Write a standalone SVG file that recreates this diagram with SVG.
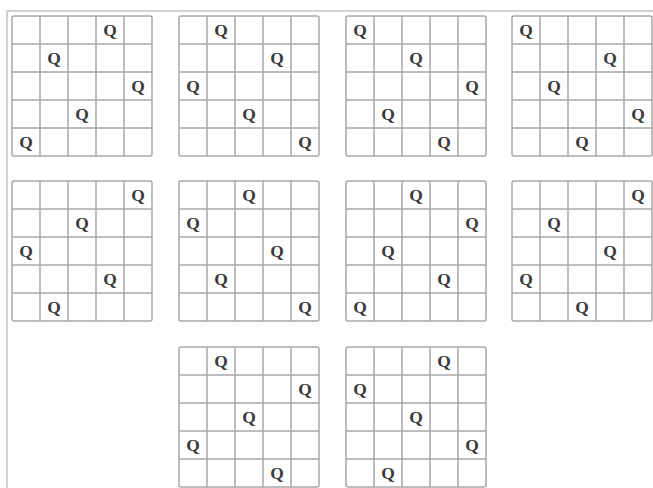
<svg xmlns="http://www.w3.org/2000/svg" xmlns:xlink="http://www.w3.org/1999/xlink" width="653" height="488" viewBox="0 0 653 488">
<style>
.frame{stroke:#c4c4c4;stroke-width:1.5;fill:none}
.grid{stroke:#a8a8a8;stroke-width:1.5;fill:none}
.q{font-family:"Liberation Serif","Times New Roman",serif;font-size:17.5px;font-weight:bold;fill:#3a3a3a;text-anchor:middle}
</style>
<defs>
<g id="b">
<rect class="grid" x="0" y="0" width="140" height="140" rx="2"/>
<path class="grid" d="M28 0V140M56 0V140M84 0V140M112 0V140M0 28H140M0 56H140M0 84H140M0 112H140"/>
</g>
</defs>
<rect width="653" height="488" fill="#fff"/>
<path class="frame" d="M7 488V11H653"/>
<g transform="translate(0,1)">
<g id="board1" transform="translate(12,16)"><use xlink:href="#b" y="-1"/>
<text class="q" x="98" y="19">Q</text><text class="q" x="42" y="47">Q</text><text class="q" x="126" y="75">Q</text><text class="q" x="70" y="103">Q</text><text class="q" x="14" y="131">Q</text></g>
<g id="board2" transform="translate(179,16)"><use xlink:href="#b" y="-1"/>
<text class="q" x="42" y="19">Q</text><text class="q" x="98" y="47">Q</text><text class="q" x="14" y="75">Q</text><text class="q" x="70" y="103">Q</text><text class="q" x="126" y="131">Q</text></g>
<g id="board3" transform="translate(346,16)"><use xlink:href="#b" y="-1"/>
<text class="q" x="14" y="19">Q</text><text class="q" x="70" y="47">Q</text><text class="q" x="126" y="75">Q</text><text class="q" x="42" y="103">Q</text><text class="q" x="98" y="131">Q</text></g>
<g id="board4" transform="translate(512,16)"><use xlink:href="#b" y="-1"/>
<text class="q" x="14" y="19">Q</text><text class="q" x="98" y="47">Q</text><text class="q" x="42" y="75">Q</text><text class="q" x="126" y="103">Q</text><text class="q" x="70" y="131">Q</text></g>
<g id="board5" transform="translate(12,181)"><use xlink:href="#b" y="-1"/>
<text class="q" x="126" y="19">Q</text><text class="q" x="70" y="47">Q</text><text class="q" x="14" y="75">Q</text><text class="q" x="98" y="103">Q</text><text class="q" x="42" y="131">Q</text></g>
<g id="board6" transform="translate(179,181)"><use xlink:href="#b" y="-1"/>
<text class="q" x="70" y="19">Q</text><text class="q" x="14" y="47">Q</text><text class="q" x="98" y="75">Q</text><text class="q" x="42" y="103">Q</text><text class="q" x="126" y="131">Q</text></g>
<g id="board7" transform="translate(346,181)"><use xlink:href="#b" y="-1"/>
<text class="q" x="70" y="19">Q</text><text class="q" x="126" y="47">Q</text><text class="q" x="42" y="75">Q</text><text class="q" x="98" y="103">Q</text><text class="q" x="14" y="131">Q</text></g>
<g id="board8" transform="translate(512,181)"><use xlink:href="#b" y="-1"/>
<text class="q" x="126" y="19">Q</text><text class="q" x="42" y="47">Q</text><text class="q" x="98" y="75">Q</text><text class="q" x="14" y="103">Q</text><text class="q" x="70" y="131">Q</text></g>
<g id="board9" transform="translate(179,347)"><use xlink:href="#b" y="-1"/>
<text class="q" x="42" y="19">Q</text><text class="q" x="126" y="47">Q</text><text class="q" x="70" y="75">Q</text><text class="q" x="14" y="103">Q</text><text class="q" x="98" y="131">Q</text></g>
<g id="board10" transform="translate(346,347)"><use xlink:href="#b" y="-1"/>
<text class="q" x="98" y="19">Q</text><text class="q" x="14" y="47">Q</text><text class="q" x="70" y="75">Q</text><text class="q" x="126" y="103">Q</text><text class="q" x="42" y="131">Q</text></g>
</g>
</svg>
